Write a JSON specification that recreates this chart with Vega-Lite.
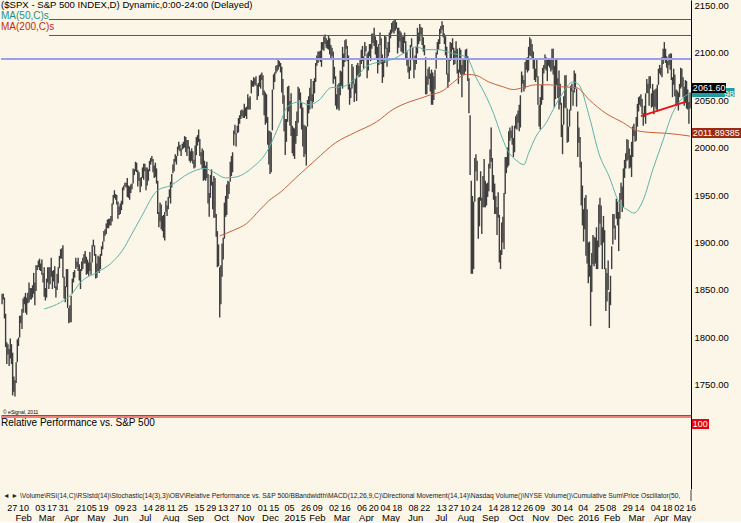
{
  "$schema": "https://vega.github.io/schema/vega-lite/v6.json",
  "padding": 0,
  "background": "#fcf6e8",
  "spacing": 0,
  "config": {"view": {"stroke": null}, "font": "Liberation Sans", "concat": {"spacing": 0}},
  "datasets": {
    "bars": [
{"i":0,"h":1846,"l":1835},{"i":1,"h":1846,"l":1840},{"i":2,"h":1842,"l":1820},{"i":3,"h":1825,"l":1790},{"i":4,"h":1795,"l":1772},{"i":5,"h":1793,"l":1782},{"i":6,"h":1788,"l":1770},{"i":7,"h":1799,"l":1778},{"i":8,"h":1793,"l":1772},{"i":9,"h":1784,"l":1739},
{"i":10,"h":1759,"l":1743},{"i":11,"h":1755,"l":1738},{"i":12,"h":1774,"l":1752},{"i":13,"h":1798,"l":1774},{"i":14,"h":1800,"l":1791},{"i":15,"h":1823,"l":1800},{"i":16,"h":1823,"l":1815},{"i":17,"h":1830,"l":1809},{"i":18,"h":1841,"l":1826},{"i":19,"h":1843,"l":1835},
{"i":20,"h":1847,"l":1826},{"i":21,"h":1842,"l":1824},{"i":22,"h":1847,"l":1836},{"i":23,"h":1858,"l":1837},{"i":24,"h":1852,"l":1840},{"i":25,"h":1852,"l":1840},{"i":26,"h":1855,"l":1842},{"i":27,"h":1868,"l":1846},{"i":28,"h":1858,"l":1834},{"i":29,"h":1876,"l":1849},
{"i":30,"h":1876,"l":1871},{"i":31,"h":1881,"l":1874},{"i":32,"h":1883,"l":1871},{"i":33,"h":1878,"l":1870},{"i":34,"h":1882,"l":1866},{"i":35,"h":1868,"l":1858},{"i":36,"h":1874,"l":1843},{"i":37,"h":1852,"l":1839},{"i":38,"h":1862,"l":1842},{"i":39,"h":1874,"l":1858},
{"i":40,"h":1874,"l":1851},{"i":41,"h":1874,"l":1856},{"i":42,"h":1884,"l":1864},{"i":43,"h":1870,"l":1851},{"i":44,"h":1871,"l":1859},{"i":45,"h":1875,"l":1852},{"i":46,"h":1854,"l":1842},{"i":47,"h":1867,"l":1850},{"i":48,"h":1874,"l":1857},{"i":49,"h":1886,"l":1873},
{"i":50,"h":1893,"l":1883},{"i":51,"h":1894,"l":1883},{"i":52,"h":1897,"l":1863},{"i":53,"h":1864,"l":1841},{"i":54,"h":1854,"l":1837},{"i":55,"h":1872,"l":1853},{"i":56,"h":1872,"l":1831},{"i":57,"h":1831,"l":1815},{"i":58,"h":1834,"l":1816},{"i":59,"h":1844,"l":1816},
{"i":60,"h":1862,"l":1846},{"i":61,"h":1869,"l":1858},{"i":62,"h":1871,"l":1863},{"i":63,"h":1884,"l":1872},{"i":64,"h":1880,"l":1874},{"i":65,"h":1884,"l":1870},{"i":66,"h":1877,"l":1860},{"i":67,"h":1872,"l":1851},{"i":68,"h":1880,"l":1870},{"i":69,"h":1884,"l":1872},
{"i":70,"h":1888,"l":1878},{"i":71,"h":1891,"l":1878},{"i":72,"h":1885,"l":1866},{"i":73,"h":1882,"l":1867},{"i":74,"h":1879,"l":1865},{"i":75,"h":1890,"l":1870},{"i":76,"h":1879,"l":1866},{"i":77,"h":1897,"l":1879},{"i":78,"h":1903,"l":1896},{"i":79,"h":1897,"l":1886},
{"i":80,"h":1888,"l":1862},{"i":81,"h":1878,"l":1863},{"i":82,"h":1886,"l":1870},{"i":83,"h":1885,"l":1868},{"i":84,"h":1888,"l":1872},{"i":85,"h":1896,"l":1886},{"i":86,"h":1901,"l":1893},{"i":87,"h":1912,"l":1901},{"i":88,"h":1914,"l":1907},{"i":89,"h":1920,"l":1909},
{"i":90,"h":1924,"l":1915},{"i":91,"h":1925,"l":1915},{"i":92,"h":1925,"l":1918},{"i":93,"h":1928,"l":1918},{"i":94,"h":1941,"l":1922},{"i":95,"h":1950,"l":1940},{"i":96,"h":1955,"l":1947},{"i":97,"h":1951,"l":1945},{"i":98,"h":1950,"l":1940},{"i":99,"h":1943,"l":1925},
{"i":100,"h":1938,"l":1929},{"i":101,"h":1941,"l":1930},{"i":102,"h":1944,"l":1934},{"i":103,"h":1958,"l":1940},{"i":104,"h":1960,"l":1955},{"i":105,"h":1963,"l":1959},{"i":106,"h":1963,"l":1958},{"i":107,"h":1968,"l":1948},{"i":108,"h":1960,"l":1947},{"i":109,"h":1959,"l":1945},
{"i":110,"h":1961,"l":1952},{"i":111,"h":1962,"l":1956},{"i":112,"h":1978,"l":1962},{"i":113,"h":1977,"l":1971},{"i":114,"h":1985,"l":1975},{"i":115,"h":1984,"l":1974},{"i":116,"h":1976,"l":1959},{"i":117,"h":1974,"l":1965},{"i":118,"h":1968,"l":1953},{"i":119,"h":1969,"l":1959},
{"i":120,"h":1979,"l":1968},{"i":121,"h":1983,"l":1966},{"i":122,"h":1983,"l":1975},{"i":123,"h":1979,"l":1955},{"i":124,"h":1979,"l":1960},{"i":125,"h":1977,"l":1965},{"i":126,"h":1986,"l":1975},{"i":127,"h":1989,"l":1982},{"i":128,"h":1991,"l":1985},{"i":129,"h":1988,"l":1974},
{"i":130,"h":1981,"l":1968},{"i":131,"h":1984,"l":1969},{"i":132,"h":1978,"l":1962},{"i":133,"h":1965,"l":1930},{"i":134,"h":1932,"l":1916},{"i":135,"h":1942,"l":1922},{"i":136,"h":1940,"l":1914},{"i":137,"h":1928,"l":1912},{"i":138,"h":1929,"l":1905},{"i":139,"h":1932,"l":1902},
{"i":140,"h":1944,"l":1932},{"i":141,"h":1939,"l":1928},{"i":142,"h":1948,"l":1935},{"i":143,"h":1956,"l":1947},{"i":144,"h":1964,"l":1941},{"i":145,"h":1972,"l":1958},{"i":146,"h":1982,"l":1973},{"i":147,"h":1988,"l":1975},{"i":148,"h":1993,"l":1985},{"i":149,"h":1991,"l":1982},
{"i":150,"h":2001,"l":1991},{"i":151,"h":2006,"l":1998},{"i":152,"h":2003,"l":1996},{"i":153,"h":1999,"l":1991},{"i":154,"h":2004,"l":1998},{"i":155,"h":2006,"l":1999},{"i":156,"h":2012,"l":2000},{"i":157,"h":2011,"l":1995},{"i":158,"h":2008,"l":1991},{"i":159,"h":2008,"l":1999},
{"i":160,"h":2001,"l":1986},{"i":161,"h":1996,"l":1984},{"i":162,"h":1999,"l":1986},{"i":163,"h":1996,"l":1983},{"i":164,"h":1987,"l":1978},{"i":165,"h":2002,"l":1979},{"i":166,"h":2011,"l":1992},{"i":167,"h":2013,"l":2002},{"i":168,"h":2019,"l":2006},{"i":169,"h":2009,"l":1991},
{"i":170,"h":1995,"l":1982},{"i":171,"h":1999,"l":1978},{"i":172,"h":1997,"l":1965},{"i":173,"h":1986,"l":1966},{"i":174,"h":1981,"l":1965},{"i":175,"h":1985,"l":1968},{"i":176,"h":1972,"l":1941},{"i":177,"h":1952,"l":1927},{"i":178,"h":1971,"l":1947},{"i":179,"h":1977,"l":1960},
{"i":180,"h":1964,"l":1935},{"i":181,"h":1970,"l":1926},{"i":182,"h":1968,"l":1926},{"i":183,"h":1930,"l":1906},{"i":184,"h":1912,"l":1874},{"i":185,"h":1898,"l":1875},{"i":186,"h":1874,"l":1821},{"i":187,"h":1876,"l":1835},{"i":188,"h":1899,"l":1864},{"i":189,"h":1905,"l":1882},
{"i":190,"h":1942,"l":1904},{"i":191,"h":1949,"l":1927},{"i":192,"h":1961,"l":1929},{"i":193,"h":1965,"l":1946},{"i":194,"h":1964,"l":1951},{"i":195,"h":1985,"l":1964},{"i":196,"h":1991,"l":1970},{"i":197,"h":1995,"l":1974},{"i":198,"h":2018,"l":2002},{"i":199,"h":2024,"l":2014},
{"i":200,"h":2015,"l":2001},{"i":201,"h":2023,"l":2015},{"i":202,"h":2031,"l":2016},{"i":203,"h":2034,"l":2025},{"i":204,"h":2039,"l":2030},{"i":205,"h":2040,"l":2033},{"i":206,"h":2039,"l":2031},{"i":207,"h":2046,"l":2031},{"i":208,"h":2042,"l":2033},{"i":209,"h":2043,"l":2030},
{"i":210,"h":2056,"l":2040},{"i":211,"h":2052,"l":2040},{"i":212,"h":2054,"l":2040},{"i":213,"h":2071,"l":2057},{"i":214,"h":2070,"l":2064},{"i":215,"h":2074,"l":2064},{"i":216,"h":2073,"l":2066},{"i":217,"h":2075,"l":2065},{"i":218,"h":2066,"l":2050},{"i":219,"h":2068,"l":2054},
{"i":220,"h":2076,"l":2064},{"i":221,"h":2077,"l":2062},{"i":222,"h":2079,"l":2071},{"i":223,"h":2076,"l":2055},{"i":224,"h":2060,"l":2034},{"i":225,"h":2058,"l":2024},{"i":226,"h":2056,"l":2026},{"i":227,"h":2032,"l":2003},{"i":228,"h":2018,"l":1982},{"i":229,"h":2017,"l":1972},
{"i":230,"h":2016,"l":1974},{"i":231,"h":2061,"l":2018},{"i":232,"h":2077,"l":2061},{"i":233,"h":2079,"l":2069},{"i":234,"h":2086,"l":2078},{"i":235,"h":2087,"l":2080},{"i":236,"h":2093,"l":2082},{"i":237,"h":2091,"l":2085},{"i":238,"h":2089,"l":2079},{"i":239,"h":2085,"l":2058},
{"i":240,"h":2072,"l":2046},{"i":241,"h":2055,"l":2017},{"i":242,"h":2030,"l":1992},{"i":243,"h":2030,"l":2006},{"i":244,"h":2064,"l":2027},{"i":245,"h":2065,"l":2038},{"i":246,"h":2049,"l":2023},{"i":247,"h":2057,"l":2012},{"i":248,"h":2023,"l":1994},{"i":249,"h":2021,"l":1991},
{"i":250,"h":2020,"l":1988},{"i":251,"h":2028,"l":2004},{"i":252,"h":2038,"l":2012},{"i":253,"h":2064,"l":2026},{"i":254,"h":2062,"l":2050},{"i":255,"h":2058,"l":2041},{"i":256,"h":2047,"l":2019},{"i":257,"h":2042,"l":2001},{"i":258,"h":2024,"l":1990},{"i":259,"h":2023,"l":1993},
{"i":260,"h":2022,"l":1981},{"i":261,"h":2050,"l":2022},{"i":262,"h":2054,"l":2036},{"i":263,"h":2063,"l":2040},{"i":264,"h":2072,"l":2049},{"i":265,"h":2056,"l":2041},{"i":266,"h":2070,"l":2048},{"i":267,"h":2073,"l":2057},{"i":268,"h":2089,"l":2069},{"i":269,"h":2097,"l":2086},
{"i":270,"h":2101,"l":2089},{"i":271,"h":2101,"l":2093},{"i":272,"h":2102,"l":2090},{"i":273,"h":2111,"l":2085},{"i":274,"h":2111,"l":2103},{"i":275,"h":2117,"l":2102},{"i":276,"h":2119,"l":2109},{"i":277,"h":2115,"l":2105},{"i":278,"h":2113,"l":2104},{"i":279,"h":2118,"l":2103},
{"i":280,"h":2115,"l":2098},{"i":281,"h":2108,"l":2093},{"i":282,"h":2105,"l":2096},{"i":283,"h":2101,"l":2067},{"i":284,"h":2085,"l":2072},{"i":285,"h":2075,"l":2044},{"i":286,"h":2056,"l":2040},{"i":287,"h":2066,"l":2041},{"i":288,"h":2068,"l":2039},{"i":289,"h":2081,"l":2055},
{"i":290,"h":2080,"l":2065},{"i":291,"h":2106,"l":2062},{"i":292,"h":2099,"l":2085},{"i":293,"h":2113,"l":2090},{"i":294,"h":2114,"l":2104},{"i":295,"h":2107,"l":2091},{"i":296,"h":2097,"l":2061},{"i":297,"h":2067,"l":2045},{"i":298,"h":2063,"l":2052},{"i":299,"h":2088,"l":2062},
{"i":300,"h":2085,"l":2067},{"i":301,"h":2067,"l":2048},{"i":302,"h":2072,"l":2057},{"i":303,"h":2087,"l":2049},{"i":304,"h":2089,"l":2076},{"i":305,"h":2086,"l":2074},{"i":306,"h":2093,"l":2075},{"i":307,"h":2103,"l":2088},{"i":308,"h":2107,"l":2091},{"i":309,"h":2096,"l":2083},
{"i":310,"h":2111,"l":2096},{"i":311,"h":2107,"l":2101},{"i":312,"h":2099,"l":2073},{"i":313,"h":2101,"l":2081},{"i":314,"h":2109,"l":2096},{"i":315,"h":2109,"l":2091},{"i":316,"h":2120,"l":2104},{"i":317,"h":2120,"l":2110},{"i":318,"h":2126,"l":2107},{"i":319,"h":2117,"l":2098},
{"i":320,"h":2113,"l":2094},{"i":321,"h":2106,"l":2078},{"i":322,"h":2109,"l":2087},{"i":323,"h":2121,"l":2108},{"i":324,"h":2115,"l":2088},{"i":325,"h":2098,"l":2068},{"i":326,"h":2092,"l":2074},{"i":327,"h":2118,"l":2089},{"i":328,"h":2117,"l":2104},{"i":329,"h":2105,"l":2085},
{"i":330,"h":2111,"l":2096},{"i":331,"h":2121,"l":2100},{"i":332,"h":2124,"l":2115},{"i":333,"h":2131,"l":2120},{"i":334,"h":2133,"l":2122},{"i":335,"h":2134,"l":2120},{"i":336,"h":2135,"l":2123},{"i":337,"h":2132,"l":2125},{"i":338,"h":2126,"l":2099},{"i":339,"h":2126,"l":2105},
{"i":340,"h":2123,"l":2112},{"i":341,"h":2121,"l":2101},{"i":342,"h":2117,"l":2100},{"i":343,"h":2117,"l":2099},{"i":344,"h":2121,"l":2110},{"i":345,"h":2112,"l":2093},{"i":346,"h":2101,"l":2086},{"i":347,"h":2093,"l":2079},{"i":348,"h":2085,"l":2072},{"i":349,"h":2108,"l":2081},
{"i":350,"h":2115,"l":2106},{"i":351,"h":2105,"l":2092},{"i":352,"h":2094,"l":2073},{"i":353,"h":2097,"l":2082},{"i":354,"h":2106,"l":2088},{"i":355,"h":2126,"l":2099},{"i":356,"h":2121,"l":2109},{"i":357,"h":2130,"l":2112},{"i":358,"h":2127,"l":2119},{"i":359,"h":2126,"l":2108},
{"i":360,"h":2116,"l":2101},{"i":361,"h":2108,"l":2097},{"i":362,"h":2095,"l":2056},{"i":363,"h":2075,"l":2056},{"i":364,"h":2083,"l":2066},{"i":365,"h":2085,"l":2072},{"i":366,"h":2078,"l":2059},{"i":367,"h":2082,"l":2045},{"i":368,"h":2079,"l":2045},{"i":369,"h":2075,"l":2050},
{"i":370,"h":2082,"l":2061},{"i":371,"h":2100,"l":2083},{"i":372,"h":2111,"l":2098},{"i":373,"h":2114,"l":2103},{"i":374,"h":2125,"l":2109},{"i":375,"h":2128,"l":2120},{"i":376,"h":2133,"l":2124},{"i":377,"h":2129,"l":2116},{"i":378,"h":2120,"l":2109},{"i":379,"h":2117,"l":2097},
{"i":380,"h":2106,"l":2077},{"i":381,"h":2078,"l":2063},{"i":382,"h":2094,"l":2069},{"i":383,"h":2111,"l":2091},{"i":384,"h":2110,"l":2094},{"i":385,"h":2115,"l":2103},{"i":386,"h":2105,"l":2087},{"i":387,"h":2102,"l":2088},{"i":388,"h":2112,"l":2095},{"i":389,"h":2104,"l":2078},
{"i":390,"h":2082,"l":2067},{"i":391,"h":2105,"l":2079},{"i":392,"h":2103,"l":2077},{"i":393,"h":2087,"l":2053},{"i":394,"h":2093,"l":2077},{"i":395,"h":2093,"l":2077},{"i":396,"h":2103,"l":2080},{"i":397,"h":2104,"l":2094},{"i":398,"h":2096,"l":2070},{"i":399,"h":2073,"l":2036},
{"i":400,"h":2034,"l":1971},{"i":401,"h":1965,"l":1867},{"i":402,"h":1949,"l":1867},{"i":403,"h":1943,"l":1872},{"i":404,"h":1989,"l":1943},{"i":405,"h":1993,"l":1975},{"i":406,"h":1986,"l":1965},{"i":407,"h":1947,"l":1904},{"i":408,"h":1948,"l":1917},{"i":409,"h":1975,"l":1944},
{"i":410,"h":1947,"l":1909},{"i":411,"h":1970,"l":1937},{"i":412,"h":1988,"l":1937},{"i":413,"h":1965,"l":1937},{"i":414,"h":1962,"l":1939},{"i":415,"h":1963,"l":1948},{"i":416,"h":1983,"l":1954},{"i":417,"h":1998,"l":1978},{"i":418,"h":2021,"l":1985},{"i":419,"h":1989,"l":1953},
{"i":420,"h":1971,"l":1945},{"i":421,"h":1962,"l":1930},{"i":422,"h":1949,"l":1930},{"i":423,"h":1937,"l":1908},{"i":424,"h":1953,"l":1926},{"i":425,"h":1929,"l":1879},{"i":426,"h":1892,"l":1872},{"i":427,"h":1921,"l":1887},{"i":428,"h":1927,"l":1900},{"i":429,"h":1952,"l":1893},
{"i":430,"h":1990,"l":1951},{"i":431,"h":1990,"l":1973},{"i":432,"h":2000,"l":1979},{"i":433,"h":2017,"l":1981},{"i":434,"h":2021,"l":2007},{"i":435,"h":2018,"l":2010},{"i":436,"h":2023,"l":2003},{"i":437,"h":2010,"l":1990},{"i":438,"h":2023,"l":1995},{"i":439,"h":2033,"l":2020},
{"i":440,"h":2035,"l":2019},{"i":441,"h":2039,"l":2026},{"i":442,"h":2045,"l":2017},{"i":443,"h":2055,"l":2021},{"i":444,"h":2080,"l":2058},{"i":445,"h":2076,"l":2067},{"i":446,"h":2071,"l":2059},{"i":447,"h":2090,"l":2062},{"i":448,"h":2093,"l":2082},{"i":449,"h":2095,"l":2079},
{"i":450,"h":2106,"l":2081},{"i":451,"h":2116,"l":2097},{"i":452,"h":2114,"l":2096},{"i":453,"h":2109,"l":2094},{"i":454,"h":2101,"l":2083},{"i":455,"h":2094,"l":2071},{"i":456,"h":2083,"l":2069},{"i":457,"h":2093,"l":2074},{"i":458,"h":2075,"l":2045},{"i":459,"h":2045,"l":2022},
{"i":460,"h":2053,"l":2019},{"i":461,"h":2066,"l":2045},{"i":462,"h":2084,"l":2050},{"i":463,"h":2087,"l":2078},{"i":464,"h":2098,"l":2083},{"i":465,"h":2095,"l":2081},{"i":466,"h":2094,"l":2070},{"i":467,"h":2094,"l":2086},{"i":468,"h":2094,"l":2084},{"i":469,"h":2093,"l":2080},
{"i":470,"h":2104,"l":2082},{"i":471,"h":2104,"l":2077},{"i":472,"h":2086,"l":2042},{"i":473,"h":2093,"l":2051},{"i":474,"h":2093,"l":2066},{"i":475,"h":2073,"l":2052},{"i":476,"h":2081,"l":2040},{"i":477,"h":2067,"l":2045},{"i":478,"h":2047,"l":2011},{"i":479,"h":2024,"l":1993},
{"i":480,"h":2054,"l":2024},{"i":481,"h":2076,"l":2042},{"i":482,"h":2076,"l":2041},{"i":483,"h":2041,"l":2005},{"i":484,"h":2022,"l":2006},{"i":485,"h":2040,"l":2022},{"i":486,"h":2065,"l":2039},{"i":487,"h":2067,"l":2059},{"i":488,"h":2060,"l":2044},{"i":489,"h":2081,"l":2058},
{"i":490,"h":2078,"l":2062},{"i":491,"h":2062,"l":2043},{"i":492,"h":2038,"l":1990},{"i":493,"h":2021,"l":2005},{"i":494,"h":2011,"l":1979},{"i":495,"h":1985,"l":1939},{"i":496,"h":1960,"l":1918},{"i":497,"h":1935,"l":1901},{"i":498,"h":1947,"l":1914},{"i":499,"h":1950,"l":1886},
{"i":500,"h":1935,"l":1878},{"i":501,"h":1900,"l":1857},{"i":502,"h":1901,"l":1864},{"i":503,"h":1876,"l":1812},{"i":504,"h":1889,"l":1848},{"i":505,"h":1908,"l":1877},{"i":506,"h":1906,"l":1875},{"i":507,"h":1905,"l":1878},{"i":508,"h":1916,"l":1872},{"i":509,"h":1902,"l":1872},
{"i":510,"h":1940,"l":1895},{"i":511,"h":1947,"l":1920},{"i":512,"h":1939,"l":1897},{"i":513,"h":1916,"l":1872},{"i":514,"h":1928,"l":1900},{"i":515,"h":1913,"l":1872},{"i":516,"h":1873,"l":1828},{"i":517,"h":1868,"l":1838},{"i":518,"h":1881,"l":1850},{"i":519,"h":1848,"l":1810},
{"i":520,"h":1865,"l":1834},{"i":521,"h":1896,"l":1872},{"i":522,"h":1930,"l":1898},{"i":523,"h":1930,"l":1915},{"i":524,"h":1918,"l":1903},{"i":525,"h":1946,"l":1925},{"i":526,"h":1943,"l":1918},{"i":527,"h":1932,"l":1891},{"i":528,"h":1952,"l":1925},{"i":529,"h":1963,"l":1945},
{"i":530,"h":1959,"l":1932},{"i":531,"h":1978,"l":1937},{"i":532,"h":1987,"l":1968},{"i":533,"h":1994,"l":1978},{"i":534,"h":2009,"l":1986},{"i":535,"h":2008,"l":1987},{"i":536,"h":1999,"l":1978},{"i":537,"h":1992,"l":1979},{"i":538,"h":2006,"l":1969},{"i":539,"h":2022,"l":1990},
{"i":540,"h":2025,"l":2012},{"i":541,"h":2018,"l":2006},{"i":542,"h":2032,"l":2007},{"i":543,"h":2046,"l":2022},{"i":544,"h":2053,"l":2038},{"i":545,"h":2054,"l":2045},{"i":546,"h":2056,"l":2043},{"i":547,"h":2051,"l":2035},{"i":548,"h":2036,"l":2023},{"i":549,"h":2044,"l":2032},
{"i":550,"h":2057,"l":2025},{"i":551,"h":2072,"l":2057},{"i":552,"h":2067,"l":2057},{"i":553,"h":2075,"l":2044},{"i":554,"h":2075,"l":2062},{"i":555,"h":2057,"l":2042},{"i":556,"h":2067,"l":2043},{"i":557,"h":2060,"l":2035},{"i":558,"h":2061,"l":2043},{"i":559,"h":2062,"l":2040},
{"i":560,"h":2066,"l":2038},{"i":561,"h":2083,"l":2066},{"i":562,"h":2087,"l":2078},{"i":563,"h":2084,"l":2076},{"i":564,"h":2095,"l":2074},{"i":565,"h":2104,"l":2088},{"i":566,"h":2111,"l":2094},{"i":567,"h":2104,"l":2089},{"i":568,"h":2096,"l":2084},{"i":569,"h":2091,"l":2078},
{"i":570,"h":2098,"l":2087},{"i":571,"h":2099,"l":2082},{"i":572,"h":2099,"l":2071},{"i":573,"h":2074,"l":2053},{"i":574,"h":2083,"l":2066},{"i":575,"h":2077,"l":2054},{"i":576,"h":2061,"l":2045},{"i":577,"h":2060,"l":2045},{"i":578,"h":2058,"l":2039},{"i":579,"h":2067,"l":2053},
{"i":580,"h":2084,"l":2062},{"i":581,"h":2083,"l":2064},{"i":582,"h":2074,"l":2053},{"i":583,"h":2064,"l":2044},{"i":584,"h":2071,"l":2047},{"i":585,"h":2070,"l":2041},{"i":586,"h":2061,"l":2040},{"i":587,"h":2048,"l":2025},{"i":588,"h":2058,"l":2041}
    ],
    "ma": [
{"i":36,"v":1830,"s":"MA(50,C)s"},{"i":50,"v":1837,"s":"MA(50,C)s"},{"i":59,"v":1845,"s":"MA(50,C)s"},{"i":67,"v":1858,"s":"MA(50,C)s"},{"i":82,"v":1869,"s":"MA(50,C)s"},{"i":93,"v":1878,"s":"MA(50,C)s"},{"i":103,"v":1892,"s":"MA(50,C)s"},{"i":110,"v":1907,"s":"MA(50,C)s"},{"i":119,"v":1927,"s":"MA(50,C)s"},{"i":133,"v":1955,"s":"MA(50,C)s"},{"i":144,"v":1960,"s":"MA(50,C)s"},{"i":160,"v":1973,"s":"MA(50,C)s"},{"i":173,"v":1978,"s":"MA(50,C)s"},{"i":181,"v":1974,"s":"MA(50,C)s"},{"i":191,"v":1968,"s":"MA(50,C)s"},{"i":200,"v":1969,"s":"MA(50,C)s"},{"i":214,"v":1979,"s":"MA(50,C)s"},{"i":226,"v":1995,"s":"MA(50,C)s"},{"i":237,"v":2024,"s":"MA(50,C)s"},{"i":244,"v":2043,"s":"MA(50,C)s"},{"i":254,"v":2048,"s":"MA(50,C)s"},{"i":262,"v":2045,"s":"MA(50,C)s"},{"i":271,"v":2050,"s":"MA(50,C)s"},{"i":281,"v":2063,"s":"MA(50,C)s"},{"i":291,"v":2064,"s":"MA(50,C)s"},{"i":302,"v":2073,"s":"MA(50,C)s"},{"i":311,"v":2085,"s":"MA(50,C)s"},{"i":322,"v":2090,"s":"MA(50,C)s"},{"i":334,"v":2093,"s":"MA(50,C)s"},{"i":343,"v":2099,"s":"MA(50,C)s"},{"i":354,"v":2106,"s":"MA(50,C)s"},{"i":362,"v":2103,"s":"MA(50,C)s"},{"i":373,"v":2103,"s":"MA(50,C)s"},{"i":385,"v":2099,"s":"MA(50,C)s"},{"i":397,"v":2095,"s":"MA(50,C)s"},{"i":405,"v":2074,"s":"MA(50,C)s"},{"i":414,"v":2053,"s":"MA(50,C)s"},{"i":420,"v":2036,"s":"MA(50,C)s"},{"i":426,"v":2015,"s":"MA(50,C)s"},{"i":432,"v":1997,"s":"MA(50,C)s"},{"i":439,"v":1987,"s":"MA(50,C)s"},{"i":446,"v":1982,"s":"MA(50,C)s"},{"i":450,"v":1994,"s":"MA(50,C)s"},{"i":456,"v":2011,"s":"MA(50,C)s"},{"i":465,"v":2026,"s":"MA(50,C)s"},{"i":471,"v":2040,"s":"MA(50,C)s"},{"i":478,"v":2055,"s":"MA(50,C)s"},{"i":488,"v":2069,"s":"MA(50,C)s"},{"i":493,"v":2066,"s":"MA(50,C)s"},{"i":502,"v":2032,"s":"MA(50,C)s"},{"i":510,"v":1994,"s":"MA(50,C)s"},{"i":519,"v":1969,"s":"MA(50,C)s"},{"i":527,"v":1943,"s":"MA(50,C)s"},{"i":535,"v":1934,"s":"MA(50,C)s"},{"i":540,"v":1931,"s":"MA(50,C)s"},{"i":548,"v":1945,"s":"MA(50,C)s"},{"i":556,"v":1976,"s":"MA(50,C)s"},{"i":565,"v":2008,"s":"MA(50,C)s"},{"i":573,"v":2036,"s":"MA(50,C)s"},{"i":580,"v":2050,"s":"MA(50,C)s"},{"i":588,"v":2057,"s":"MA(50,C)s"},
{"i":186,"v":1907,"s":"MA(200,C)s"},{"i":198,"v":1913,"s":"MA(200,C)s"},{"i":209,"v":1920,"s":"MA(200,C)s"},{"i":220,"v":1934,"s":"MA(200,C)s"},{"i":228,"v":1944,"s":"MA(200,C)s"},{"i":238,"v":1953,"s":"MA(200,C)s"},{"i":251,"v":1968,"s":"MA(200,C)s"},{"i":268,"v":1987,"s":"MA(200,C)s"},{"i":285,"v":2005,"s":"MA(200,C)s"},{"i":302,"v":2016,"s":"MA(200,C)s"},{"i":320,"v":2027,"s":"MA(200,C)s"},{"i":334,"v":2040,"s":"MA(200,C)s"},{"i":348,"v":2048,"s":"MA(200,C)s"},{"i":358,"v":2052,"s":"MA(200,C)s"},{"i":365,"v":2055,"s":"MA(200,C)s"},{"i":377,"v":2060,"s":"MA(200,C)s"},{"i":385,"v":2068,"s":"MA(200,C)s"},{"i":397,"v":2077,"s":"MA(200,C)s"},{"i":405,"v":2076,"s":"MA(200,C)s"},{"i":416,"v":2069,"s":"MA(200,C)s"},{"i":428,"v":2064,"s":"MA(200,C)s"},{"i":437,"v":2061,"s":"MA(200,C)s"},{"i":445,"v":2063,"s":"MA(200,C)s"},{"i":456,"v":2066,"s":"MA(200,C)s"},{"i":468,"v":2066,"s":"MA(200,C)s"},{"i":478,"v":2064,"s":"MA(200,C)s"},{"i":491,"v":2063,"s":"MA(200,C)s"},{"i":502,"v":2050,"s":"MA(200,C)s"},{"i":516,"v":2036,"s":"MA(200,C)s"},{"i":531,"v":2026,"s":"MA(200,C)s"},{"i":542,"v":2018,"s":"MA(200,C)s"},{"i":553,"v":2016,"s":"MA(200,C)s"},{"i":568,"v":2015,"s":"MA(200,C)s"},{"i":588,"v":2012,"s":"MA(200,C)s"}
    ],
    "hlines": [{"v":2134.77,"a":40,"b":589},{"v":2117.93,"a":40,"b":589}],
    "trend": [{"i":546,"v":2033},{"i":584,"v":2048}],
    "one": [{}]
  },
  "vconcat": [
    {
      "width": 690,
      "height": 415,
      "layer": [
        {
          "data": {"name": "bars"},
          "mark": {"type": "rule", "color": "#3e3e3e", "strokeWidth": 1.4},
          "encoding": {
            "x": {"field": "i", "type": "quantitative", "scale": {"domain": [-0.94, 588.8], "nice": false, "zero": false},
                  "axis": {"orient": "bottom", "labels": false, "ticks": false, "grid": false, "domain": true, "domainColor": "#606060", "title": null}},
            "y": {"field": "l", "type": "quantitative", "scale": {"domain": [1718.4, 2155.3], "nice": false, "zero": false},
                  "axis": {"orient": "right", "values": [1750, 1800, 1850, 1900, 1950, 2000, 2050, 2100, 2150], "format": ".2f", "ticks": false, "grid": false, "domain": true, "domainColor": "#000000", "labelColor": "#000000", "labelFontSize": 9.5, "labelFont": "Liberation Sans", "labelPadding": 3, "labelFlush": false, "title": null}},
            "y2": {"field": "h"}
          }
        },
        {
          "data": {"name": "hlines"},
          "mark": {"type": "rule", "color": "#4646e6", "strokeWidth": 1},
          "encoding": {"x": {"field": "a", "type": "quantitative", "title": null}, "x2": {"field": "b"}, "y": {"field": "v", "type": "quantitative", "title": null}}
        },
        {
          "data": {"name": "one"},
          "mark": {"type": "rule", "color": "#9d9df2", "strokeWidth": 2},
          "encoding": {"y": {"datum": 2093.19, "type": "quantitative", "title": null}}
        },
        {
          "data": {"name": "ma"},
          "mark": {"type": "line", "strokeWidth": 1, "interpolate": "monotone"},
          "encoding": {
            "x": {"field": "i", "type": "quantitative", "title": null},
            "y": {"field": "v", "type": "quantitative", "title": null},
            "color": {"field": "s", "type": "nominal",
              "scale": {"domain": ["MA(50,C)s", "MA(200,C)s"], "range": ["#5fb3aa", "#c8603c"]},
              "legend": {"orient": "top-left", "offset": 0, "padding": 0, "title": "($SPX - S&P 500 INDEX,D) Dynamic,0:00-24:00 (Delayed)",
                "titleFontSize": 9.6, "titleFontWeight": "normal", "titleColor": "#000000", "titleFont": "Liberation Sans", "titlePadding": 1, "titleLimit": 600,
                "labelFontSize": 10, "labelFont": "Liberation Sans", "labelOffset": -10, "rowPadding": 1, "symbolOpacity": 0, "symbolSize": 0, "symbolStrokeWidth": 0,
                "encode": {"labels": {"update": {"fill": {"signal": "datum.label === 'MA(50,C)s' ? '#1b8f8c' : '#c42a0c'"}}}}}
            }
          }
        },
        {
          "data": {"name": "trend"},
          "mark": {"type": "line", "color": "#e8101a", "strokeWidth": 2},
          "encoding": {"x": {"field": "i", "type": "quantitative", "title": null}, "y": {"field": "v", "type": "quantitative", "title": null}}
        },
        {
          "data": {"name": "one"},
          "mark": {"type": "rect", "color": "#1f9d9a"},
          "encoding": {"x": {"datum": 589.7}, "x2": {"datum": 626}, "y": {"datum": 2062.6}, "y2": {"datum": 2053.2}}
        },
        {
          "data": {"name": "one"},
          "mark": {"type": "text", "color": "#ffffff", "fontSize": 9, "align": "right", "baseline": "middle"},
          "encoding": {"x": {"datum": 625.5}, "y": {"datum": 2056.6}, "text": {"value": "98"}}
        },
        {
          "data": {"name": "one"},
          "mark": {"type": "rect", "color": "#000000"},
          "encoding": {"x": {"datum": 589.7}, "x2": {"datum": 618.7}, "y": {"datum": 2067.9}, "y2": {"datum": 2057.4}}
        },
        {
          "data": {"name": "one"},
          "mark": {"type": "text", "color": "#ffffff", "fontSize": 9, "align": "left", "baseline": "middle"},
          "encoding": {"x": {"datum": 590.4}, "y": {"datum": 2062.6}, "text": {"value": "2061.60"}}
        },
        {
          "data": {"name": "one"},
          "mark": {"type": "rect", "color": "#9a2a10"},
          "encoding": {"x": {"datum": 589.7}, "x2": {"datum": 632.5}, "y": {"datum": 2020.5}, "y2": {"datum": 2010}}
        },
        {
          "data": {"name": "one"},
          "mark": {"type": "text", "color": "#ffffff", "fontSize": 9, "align": "left", "baseline": "middle"},
          "encoding": {"x": {"datum": 590.4}, "y": {"datum": 2015.3}, "text": {"value": "2011.89385"}}
        },
        {
          "data": {"name": "one"},
          "mark": {"type": "text", "color": "#000000", "fontSize": 5, "align": "left", "baseline": "middle"},
          "encoding": {"x": {"datum": 0.8}, "y": {"datum": 1722}, "text": {"value": "© eSignal, 2011"}}
        }
      ]
    },
    {
      "width": 690,
      "height": 74,
      "data": {"name": "one"},
      "layer": [
        {
          "mark": {"type": "rule", "color": "#e01010", "strokeWidth": 1},
          "encoding": {
            "x": {"datum": -0.94, "type": "quantitative", "scale": {"domain": [-0.94, 588.8], "nice": false, "zero": false}, "axis": null},
            "x2": {"datum": 588.8},
            "y": {"datum": 100, "type": "quantitative", "scale": {"domain": [50, 101.4], "nice": false, "zero": false},
                  "axis": {"orient": "right", "labels": false, "ticks": false, "grid": false, "domain": true, "domainColor": "#000000", "title": null}}
          }
        },
        {
          "mark": {"type": "text", "color": "#000000", "fontSize": 10, "align": "left", "baseline": "middle"},
          "encoding": {"x": {"datum": -0.94}, "y": {"datum": 95.84}, "text": {"value": "Relative Performance vs. S&P 500"}}
        },
        {
          "mark": {"type": "rect", "color": "#e8000a"},
          "encoding": {"x": {"datum": 589.7}, "x2": {"datum": 604.2}, "y": {"datum": 98.62}, "y2": {"datum": 91.68}}
        },
        {
          "mark": {"type": "text", "color": "#ffffff", "fontSize": 9, "align": "left", "baseline": "middle"},
          "encoding": {"x": {"datum": 590.2}, "y": {"datum": 95.15}, "text": {"value": "100"}}
        }
      ]
    },
    {
      "width": 690,
      "height": 11,
      "data": {"name": "one"},
      "resolve": {"axis": {"x": "independent"}},
      "layer": [
        {
          "mark": {"type": "text", "color": "#202020", "fontSize": 6.7, "align": "left", "baseline": "middle"},
          "encoding": {
            "x": {"datum": 0.8, "type": "quantitative", "scale": {"domain": [-0.94, 588.8], "nice": false, "zero": false},
              "axis": {"orient": "bottom", "values": [4,14,28,38,48,63,72,82,96,106,120,130,140,150,164,174,184,194,204,218,228,241,255,265,279,289,303,313,323,333,347,357,371,381,391,401,415,425,435,445,455,469,479,492,506,516,530,540,554,564,574,584],
                "labelExpr": "{'4':'27','14':'10','28':'03','38':'17','48':'31','63':'21','72':'05','82':'19','96':'09','106':'23','120':'14','130':'28','140':'11','150':'25','164':'15','174':'29','184':'13','194':'27','204':'10','218':'01','228':'15','241':'05','255':'26','265':'09','279':'02','289':'16','303':'06','313':'20','323':'04','333':'18','347':'08','357':'22','371':'13','381':'27','391':'10','401':'24','415':'14','425':'28','435':'12','445':'26','455':'09','469':'30','479':'14','492':'04','506':'25','516':'08','530':'29','540':'14','554':'04','564':'18','574':'02','584':'16'}[datum.value]",
                "labelAlign": "left", "labelFontSize": 9, "labelColor": "#000000", "labelFont": "Liberation Sans", "labelPadding": 2, "labelOverlap": false, "labelBound": false, "labelFlush": false, "ticks": false, "domain": false, "grid": false, "title": null}},
            "y": {"datum": 0.5, "type": "quantitative", "scale": {"domain": [0, 1]}, "axis": null},
            "text": {"value": "◄ ► \\Volume\\RSI(14,C)\\RSIstd(14)\\Stochastic(14(3),3)\\OBV\\Relative Performance vs. S&P 500/BBandwidth\\MACD(12,26,9,C)\\Directional Movement(14,14)\\Nasdaq Volume()\\NYSE Volume()\\Cumulative Sum\\Price Oscillator(50,"}
          }
        },
        {
          "mark": {"type": "rule", "color": "#404040", "strokeWidth": 1},
          "encoding": {
            "x": {"datum": 588.8, "type": "quantitative", "scale": {"domain": [-0.94, 588.8], "nice": false, "zero": false},
              "axis": {"orient": "bottom", "offset": 9, "values": [18,38,59,80,101,122,144,165,187,208,229,250,269,290,311,332,353,375,396,417,439,460,481,501,521,542,563,581],
                "labelExpr": "{'18':'Feb','38':'Mar','59':'Apr','80':'May','101':'Jun','122':'Jul','144':'Aug','165':'Sep','187':'Oct','208':'Nov','229':'Dec','250':'2015','269':'Feb','290':'Mar','311':'Apr','332':'May','353':'Jun','375':'Jul','396':'Aug','417':'Sep','439':'Oct','460':'Nov','481':'Dec','501':'2016','521':'Feb','542':'Mar','563':'Apr','581':'May'}[datum.value]",
                "labelAlign": "center", "labelFontSize": 9.5, "labelColor": "#000000", "labelFont": "Liberation Sans", "labelPadding": 2, "labelOverlap": false, "labelBound": false, "labelFlush": false, "ticks": false, "domain": false, "grid": false, "title": null}},
            "y": {"datum": 0, "type": "quantitative", "scale": {"domain": [0, 1]}, "axis": null},
            "y2": {"datum": 1}
          }
        }
      ]
    }
  ]
}
